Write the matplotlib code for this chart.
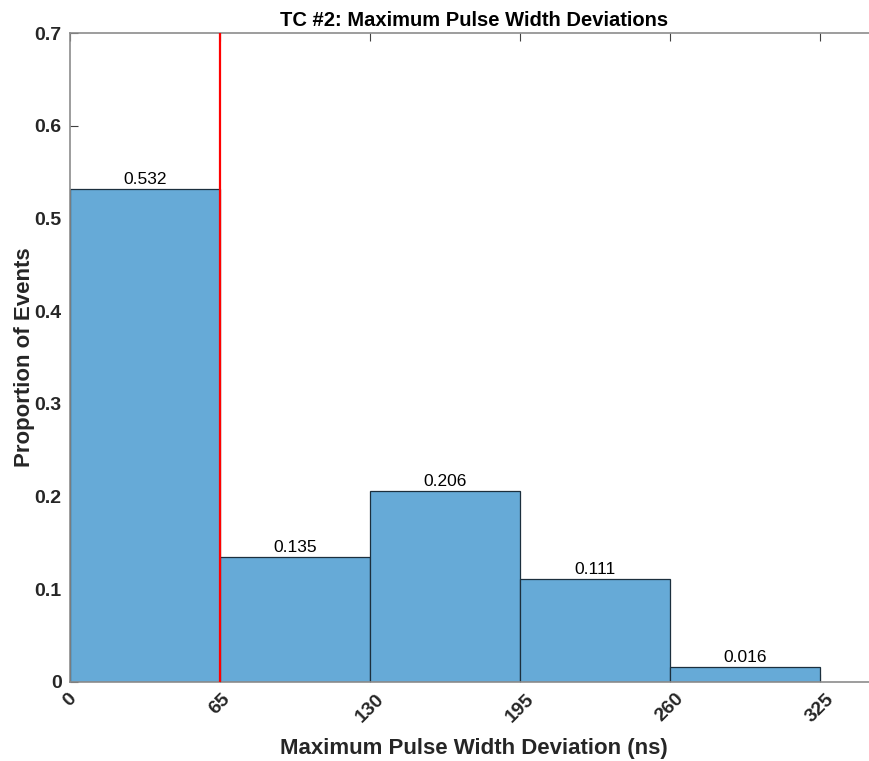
import matplotlib
matplotlib.use("Agg")
import matplotlib.pyplot as plt

plt.rcParams['font.family'] = ['Liberation Sans', 'DejaVu Sans']

bin_edges = [0, 65, 130, 195, 260, 325]
proportions = [0.532, 0.135, 0.206, 0.111, 0.016]
threshold = 65
xticks = [0, 65, 130, 195, 260, 325]
yticks = [0, 0.1, 0.2, 0.3, 0.4, 0.5, 0.6, 0.7]

fig = plt.figure(figsize=(8.7, 7.61), dpi=100)
# x range 0..350 maps to 70..877.7 px (axes extends past the right figure edge)
ax = fig.add_axes([70/870, 1-682/761, 807.7/870, (682-33)/761])

lefts = bin_edges[:-1]
widths = [b - a for a, b in zip(bin_edges[:-1], bin_edges[1:])]
ax.bar(lefts, proportions, width=widths, align='edge',
       color='#66AAD7', edgecolor='#1c2f3d', linewidth=0.9, zorder=2)

for l, w, p in zip(lefts, widths, proportions):
    ax.text(l + w/2, p + 0.002, f"{p:.3f}", ha='center', va='bottom',
            fontsize=12.5, color='black', zorder=4)

ax.axvline(threshold, color='#ff0000', linewidth=1.6, zorder=3)

ax.set_xlim(0, 350)
ax.set_ylim(0, 0.7)
ax.set_xticks(xticks)
ax.set_yticks(yticks)
ax.set_xticklabels([str(x) for x in xticks], rotation=45, fontweight='bold',
                   fontsize=14, color='#262626', ha='center', va='top')
ax.set_yticklabels(['0' if y == 0 else f"{y:.1f}" for y in yticks],
                   fontweight='bold', fontsize=14, color='#262626')
ax.tick_params(direction='in', length=6, width=0.8, color='#404040',
               top=True, right=True, pad=6)
for s in ax.spines.values():
    s.set_color('#8c8c8c')
    s.set_linewidth(1.2)

ax.set_xlabel('Maximum Pulse Width Deviation (ns)', fontsize=16,
              fontweight='bold', color='#262626', labelpad=9)
ax.set_ylabel('Proportion of Events', fontsize=16, fontweight='bold',
              color='#262626', labelpad=0)
ax.set_title('TC #2: Maximum Pulse Width Deviations', fontsize=14.5,
             fontweight='bold', color='black', pad=5)

fig.savefig('out.png', dpi=100)
